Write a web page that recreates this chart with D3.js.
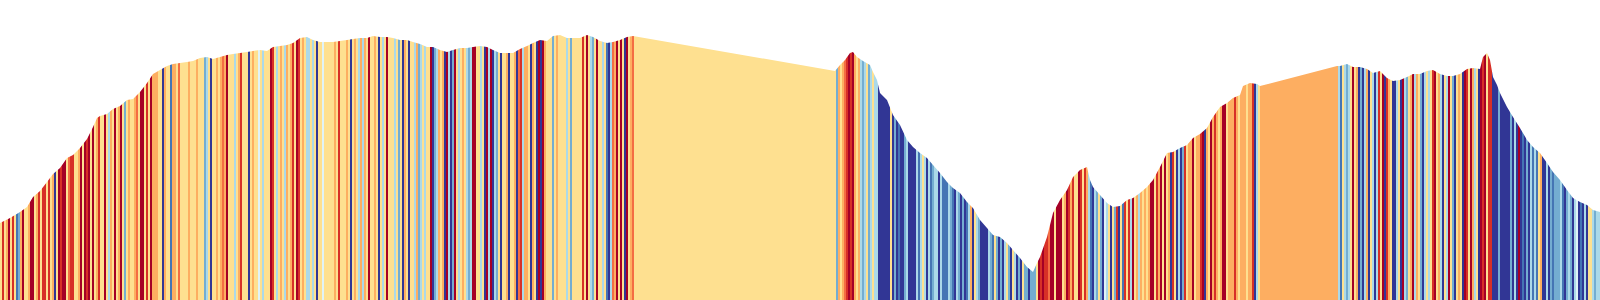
<!DOCTYPE html>
<html>
<head>
<meta charset="utf-8">
<script src="https://cdn.jsdelivr.net/npm/d3@7"></script>
<style>
  html, body { margin: 0; padding: 0; background: #fff; }
  svg { display: block; }
</style>
</head>
<body>
<div id="chart"></div>
<script>
// Route profile: distance along the route (km) and elevation (m)
const distKm = [
  0, 1.0, 2.0, 2.7, 3.3, 4.0, 4.7, 5.3, 6.0, 6.7, 7.3, 8.0, 8.7, 9.3, 9.7, 10.0,
  10.7, 11.3, 12.0, 12.7, 13.3, 14.0, 14.7, 15.3, 16.0, 16.7, 17.3, 18.0, 18.7, 19.3,
  20.0, 20.7, 21.3, 22.0, 22.7, 23.3, 24.0, 24.7, 25.3, 26.0, 26.7, 27.3, 28.0, 28.7,
  29.3, 30.0, 30.7, 31.3, 32.0, 32.7, 33.3, 34.0, 34.7, 35.3, 36.0, 36.7, 37.3, 38.0,
  38.7, 39.3, 40.0, 40.7, 41.3, 42.0, 42.7, 43.3, 44.0, 44.7, 45.3, 46.0, 46.7, 47.3,
  48.0, 48.7, 49.3, 50.0, 50.7, 51.3, 52.0, 52.7, 53.3, 54.0, 54.7, 55.3, 56.0, 56.7,
  57.3, 58.0, 58.7, 59.3, 60.0, 60.7, 61.3, 62.0, 62.7, 63.3,
  83.5, 84.0, 84.5, 85.0, 85.3, 85.7, 86.3, 87.0, 87.3, 87.7, 88.0, 88.7, 89.3, 90.0,
  90.7, 91.3, 92.0, 92.7, 93.3, 94.0, 94.7, 95.3, 96.0, 96.7, 97.3, 98.0, 98.7, 99.3,
  100.0, 100.7, 101.3, 102.0, 102.7, 103.3, 103.7, 104.0, 104.7, 105.3, 106.0, 106.7,
  107.3, 108.0, 108.7, 109.0, 109.3, 110.0, 110.7, 111.3, 112.0, 112.7, 113.3, 114.0,
  114.7, 115.3, 116.0, 116.7, 117.3, 118.0, 118.7, 119.3, 120.0, 120.7, 121.3, 122.0,
  122.7, 123.3, 124.0, 124.3, 125.0, 125.7, 126.0,
  133.7, 134.0, 134.7, 135.3, 136.0, 136.7, 137.3, 138.0, 138.7, 139.3, 140.0, 140.7,
  141.3, 142.0, 142.7, 143.3, 144.0, 144.7, 145.3, 146.0, 146.7, 147.3, 148.0, 148.3,
  148.7, 149.0, 149.3, 149.7, 150.0, 150.7, 151.3, 152.0, 152.7, 153.3, 154.0, 154.7,
  155.3, 156.0, 156.7, 157.3, 158.0, 158.7, 159.3, 160.0
];
const elevM = [
  770, 820, 880, 930, 1030, 1090, 1180, 1260, 1320, 1420, 1450, 1520, 1610, 1730, 1820, 1840,
  1860, 1910, 1940, 2000, 2010, 2080, 2170, 2260, 2300, 2340, 2360, 2370, 2380, 2390,
  2420, 2430, 2410, 2430, 2450, 2460, 2470, 2480, 2490, 2500, 2490, 2530, 2540, 2550,
  2570, 2620, 2630, 2600, 2580, 2580, 2580, 2590, 2600, 2610, 2620, 2620, 2640, 2630,
  2630, 2620, 2600, 2600, 2580, 2560, 2530, 2530, 2500, 2480, 2500, 2520, 2520, 2530,
  2540, 2530, 2500, 2470, 2470, 2470, 2510, 2540, 2570, 2600, 2590, 2640, 2650, 2620,
  2620, 2620, 2650, 2630, 2590, 2570, 2580, 2600, 2630, 2640,
  2290, 2350, 2400, 2470, 2480, 2430, 2390, 2350, 2280, 2200, 2070, 2000, 1850, 1750,
  1600, 1530, 1470, 1420, 1350, 1270, 1180, 1120, 1070, 980, 920, 800, 720, 650,
  630, 570, 500, 420, 330, 280, 370, 430, 630, 870, 1000, 1100,
  1230, 1300, 1330, 1200, 1130, 1050, 970, 930, 940, 1000, 1020, 1070,
  1130, 1200, 1330, 1470, 1480, 1520, 1550, 1620, 1660, 1720, 1830, 1930,
  1970, 2020, 2050, 2140, 2170, 2160, 2140,
  2340, 2340, 2360, 2330, 2330, 2310, 2270, 2290, 2220, 2190, 2200, 2230,
  2260, 2260, 2290, 2300, 2260, 2240, 2240, 2260, 2310, 2320, 2310, 2430,
  2470, 2400, 2230, 2150, 2070, 1930, 1830, 1720, 1600, 1530, 1470, 1370,
  1280, 1200, 1100, 1020, 980, 950, 900, 880
];

// Slope class of each 0.2 km stripe: 0 = steepest climb ... 9 = steepest descent
const slopeCodes = [
  "4143041487", "3044300431", "4114143940", "1004211443", "0401040431", "4404634043",
  "0474344324", "0041403334", "4934483342", "4444344434", "4476494434",
  "3230444643", "1444943445", "4644401464", "3463431401", "4346646494", "4544444341",
  "4443494346", "3634044349", "4640444647", "4934944637", "6464409763",
  "4390697046", "4346760044", "6490609674", "9443944392", "1633493490", "9034447434",
  "4446474444", "4140467404", "4648962304", "0490432444",
  "4444444444", "4444444444", "4444444444", "4444444444", "4444444444", "4444444444",
  "4444444444", "4444444444", "4444444444", "44444444",
  "7343210103", "4367647646", "6999999497", "9899769999", "6864696876", "6968886789",
  "6797986394", "6799996784", "7979647946", "9794779777", "4010",
  "1120040004", "3013144014", "1368967479", "5649471948", "1416043634", "3430041304",
  "0439149697", "1433043310", "9340313430", "0433313433", "34331964",
  "3333333333", "3333333333", "3333333333", "333333333",
  "6846764043", "9796394696", "1409134996", "4906743063", "4796464104", "3694604794",
  "3490140364", "9010411999", "7999997969", "0989796868", "4399697877", "7689767965",
  "98969446766"
];
const slopeClass = slopeCodes.join("").split("").map(Number);

const classColors = ["#a50026", "#d73027", "#f46d43", "#fdae61", "#fee090",
                     "#e0f3f8", "#abd9e9", "#74add1", "#4575b4", "#313695"];

const width = 1600;
const height = 300;

const profile = distKm.map((d, i) => ({ dist: d, elev: elevM[i] }));

const svg = d3.select("#chart").append("svg")
    .attr("width", width)
    .attr("height", height);

const xScale = d3.scaleLinear()
    .domain([0, d3.max(distKm)])
    .range([0, width]);

const yScale = d3.scaleLinear()
    .domain([0, 3000])
    .range([height, 0]);

const stripeScale = d3.scaleBand()
    .domain(d3.range(slopeClass.length))
    .range([0, width])
    .padding(0);

const color = d3.scaleOrdinal()
    .domain(d3.range(classColors.length))
    .range(classColors);

const area = d3.area()
    .x(d => xScale(d.dist))
    .y0(yScale(0))
    .y1(d => yScale(d.elev));

svg.append("clipPath")
    .attr("id", "profile-clip")
    .append("path")
    .attr("d", area(profile));

svg.append("g")
    .attr("clip-path", "url(#profile-clip)")
    .selectAll("rect")
    .data(slopeClass)
    .enter()
    .append("rect")
    .attr("x", (d, i) => stripeScale(i))
    .attr("y", 0)
    .attr("width", stripeScale.bandwidth() + 0.02)
    .attr("height", height)
    .attr("shape-rendering", "crispEdges")
    .style("fill", d => color(d));
</script>
</body>
</html>
